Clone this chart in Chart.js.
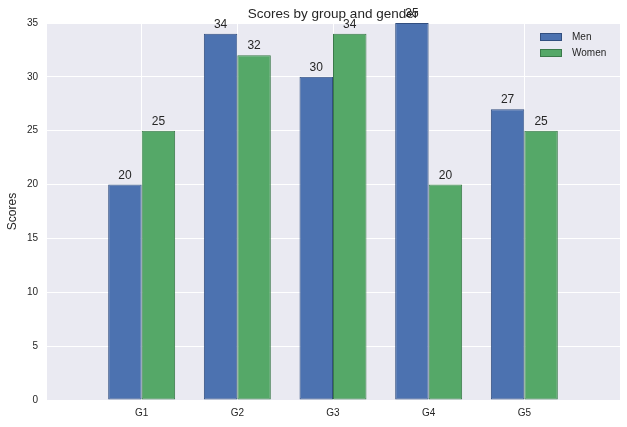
<!DOCTYPE html>
<html>
<head>
<meta charset="utf-8">
<script src="https://cdn.jsdelivr.net/npm/chart.js"></script>
<style>
  html, body { margin: 0; padding: 0; background: #fff; }
  canvas { display: block; }
</style>
</head>
<body>
<canvas id="chart" width="627" height="427"></canvas>
<script>
// data
const groups = ['G1', 'G2', 'G3', 'G4', 'G5'];
const menScores = [20, 34, 30, 35, 27];
const womenScores = [25, 32, 34, 20, 25];
const yTicks = [0, 5, 10, 15, 20, 25, 30, 35];

const FONT = '"Liberation Sans", Arial, sans-serif';
const TEXT = '#262626';

// pad with empty slots so the axis spans one extra group on each side
const labels = [''].concat(groups, ['']);
const pad = arr => [null].concat(arr, [null]);

const decorPlugin = {
    id: 'decor',
    beforeDraw(chart) {
        const a = chart.chartArea;
        const ctx = chart.ctx;
        ctx.save();
        ctx.fillStyle = '#EAEAF2';
        ctx.fillRect(a.left, a.top, a.right - a.left, a.bottom - a.top);
        ctx.restore();
    },
    afterDraw(chart) {
        const ctx = chart.ctx;
        const a = chart.chartArea;
        const y = chart.scales.y;
        ctx.save();
        // title
        ctx.fillStyle = TEXT;
        ctx.font = '13.5px ' + FONT;
        ctx.textAlign = 'center';
        ctx.textBaseline = 'alphabetic';
        ctx.fillText('Scores by group and gender', (a.left + a.right) / 2, 18);

        // value labels above bars
        ctx.font = '12px ' + FONT;
        chart.data.datasets.forEach((ds, i) => {
            const meta = chart.getDatasetMeta(i);
            meta.data.forEach((bar, j) => {
                const v = ds.data[j];
                if (v == null) return;
                ctx.fillText(String(v), bar.x, y.getPixelForValue(v) - 6);
            });
        });

        // legend
        ctx.font = '10px ' + FONT;
        ctx.textAlign = 'left';
        ctx.textBaseline = 'middle';
        chart.data.datasets.forEach((ds, i) => {
            const cy = 37 + i * 16;
            ctx.fillStyle = ds.backgroundColor;
            ctx.fillRect(540, cy - 4, 22, 8);
            ctx.strokeStyle = ds.borderColor;
            ctx.lineWidth = 1;
            ctx.strokeRect(540.5, cy - 3.5, 21, 7);
            ctx.fillStyle = TEXT;
            ctx.fillText(ds.label, 572, cy);
        });
        ctx.restore();
    }
};

new Chart(document.getElementById('chart'), {
    type: 'bar',
    data: {
        labels: labels,
        datasets: [{
            label: 'Men',
            data: pad(menScores),
            backgroundColor: '#4C72B0',
            borderColor: '#324f80',
            borderWidth: 1,
            borderSkipped: false,
            categoryPercentage: 0.7,
            barPercentage: 1.0
        }, {
            label: 'Women',
            data: pad(womenScores),
            backgroundColor: '#55A868',
            borderColor: '#3b7a4a',
            borderWidth: 1,
            borderSkipped: false,
            categoryPercentage: 0.7,
            barPercentage: 1.0
        }]
    },
    options: {
        responsive: false,
        animation: false,
        layout: { padding: { top: 23, right: 7, left: 0, bottom: 0 } },
        plugins: {
            legend: { display: false },
            title: { display: false },
            tooltip: { enabled: false }
        },
        scales: {
            x: {
                offset: false,
                grid: { color: '#ffffff', lineWidth: 1, drawTicks: false, offset: false },
                border: { display: false },
                ticks: {
                    color: TEXT,
                    font: { family: FONT, size: 10 },
                    padding: 7,
                    maxRotation: 0,
                    autoSkip: false
                },
                afterFit(scale) { scale.height = 27; }
            },
            y: {
                min: 0,
                max: 35,
                afterBuildTicks(scale) { scale.ticks = yTicks.map(v => ({ value: v })); },
                grid: { color: '#ffffff', lineWidth: 1, drawTicks: false },
                border: { display: false },
                ticks: {
                    color: TEXT,
                    font: { family: FONT, size: 10 },
                    padding: 8
                },
                title: {
                    display: true,
                    text: 'Scores',
                    color: TEXT,
                    font: { family: FONT, size: 12 },
                    padding: { top: 5, bottom: 0 }
                },
                afterFit(scale) { scale.width = 46; }
            }
        }
    },
    plugins: [decorPlugin]
});
</script>
</body>
</html>
